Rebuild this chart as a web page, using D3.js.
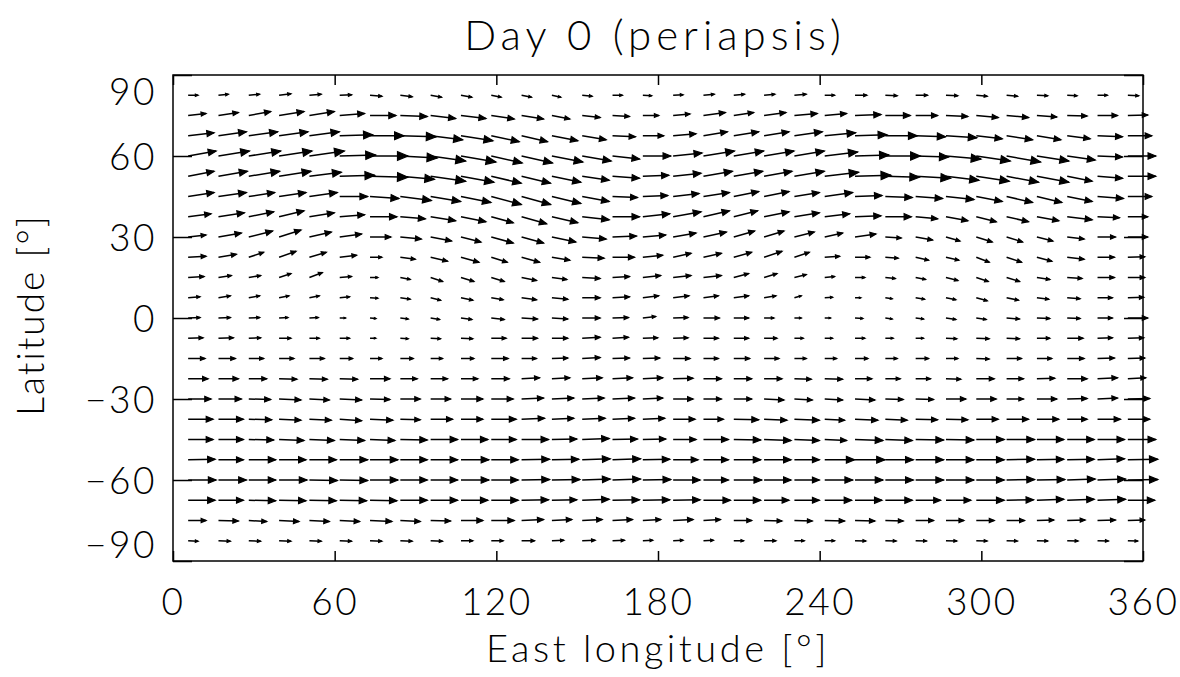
<!DOCTYPE html>
<html>
<head>
<meta charset="utf-8">
<script src="https://cdn.jsdelivr.net/npm/d3@7"></script>
<style>
body { margin: 0; background: #fff; }
svg text { font-family: "Lato", "DejaVu Sans", sans-serif; font-weight: 300; fill: #000; }
</style>
</head>
<body>
<svg id="chart"></svg>
<script>
// размеры окна и области графика
const width = 1180, height = 677;
const margin = {left: 173, right: 37, top: 75, bottom: 116};

// сетка: долготы (начало стрелки) и широты
const lons = [5.625, 16.875, 28.125, 39.375, 50.625, 61.875, 73.125, 84.375,
    95.625, 106.875, 118.125, 129.375, 140.625, 151.875, 163.125, 174.375,
    185.625, 196.875, 208.125, 219.375, 230.625, 241.875, 253.125, 264.375,
    275.625, 286.875, 298.125, 309.375, 320.625, 331.875, 343.125, 354.375];
const lats = [82.5, 75, 67.5, 60, 52.5, 45, 37.5, 30, 22.5, 15, 7.5, 0,
    -7.5, -15, -22.5, -30, -37.5, -45, -52.5, -60, -67.5, -75, -82.5];

const xTicks = [0, 60, 120, 180, 240, 300, 360];
const yTicks = [-90, -60, -30, 0, 30, 60, 90];

// зональная компонента ветра (на восток), по строкам широт
const uWind = [
    [10,10,11,12,12,12,12,12,11,11, 10,10,9,10,10,9,10,11,11,11,12, 10,12,12,12,12,11,11,11,10,10,11],
    [18,20,22,25,25,25,26,27,25,25, 23,22,18,18,17,16,17,22,20,22,23, 22,26,25,22,22,22,22,20,20,20,20],
    [26,28,29,29,30,33,34,36,32,32, 28,26,26,24,23,21,23,24,25,25,28, 31,32,32,30,31,26,26,24,23,25,24],
    [28,31,32,33,35,36,38,37,35,35, 31,31,31,29,27,28,29,31,30,30,30, 33,34,35,33,35,34,34,32,28,25,28],
    [26,29,31,32,32,35,38,34,35,33, 30,29,29,27,27,26,28,29,29,28,30, 34,36,34,35,33,33,32,32,25,25,28],
    [26,28,26,27,28,28,29,31,30,30, 30,29,29,27,25,25,26,26,25,25,25, 28,27,27,27,28,26,26,25,25,26,24],
    [23,26,25,25,25,25,27,25,25,25, 22,25,26,27,27,27,28,26,24,25,25, 25,26,26,22,22,20,22,22,25,22,20],
    [18,23,24,22,22,22,21,21,21,20, 22,22,24,24,24,23,23,23,21,20,20, 18,21,16,17,14,16,16,16,17,18,20],
    [18,18,15,17,17,17,12,15,17,18, 16,18,18,22,22,20,18,18,18,18,15, 15,15,13,13,13,13,15,15,17,17,17],
    [16,13,12,12,13,12,8,10,12,13, 13,15,15,18,17,18,18,18,15,13,12, 10,10,10,10,12,12,13,13,15,17,17],
    [12,12,11,10,10,10,8,10,10,12, 12,15,16,18,17,16,16,15,15,12,7, 8,6,7,9,10,11,12,12,13,15,16],
    [12,12,11,9,9,6,6,8,9,11, 13,16,16,18,16,13,15,16,15,10,7, 6,8,7,8,10,10,13,13,13,15,20],
    [15,15,12,12,10,10,6,8,10,12, 15,16,16,18,16,15,15,15,15,13,9, 8,10,8,8,11,13,13,13,16,15,16],
    [17,17,15,15,15,13,12,13,12,13, 17,15,16,18,17,17,17,15,16,15,12, 12,13,12,13,12,13,15,15,17,17,17],
    [20,20,18,18,18,18,20,17,17,17, 18,18,18,20,20,20,20,18,18,18,17, 18,17,15,15,15,18,17,18,20,20,18],
    [23,23,22,22,20,22,20,20,20,22, 22,22,22,22,22,20,20,18,18,20,18, 18,20,18,18,20,20,17,20,20,20,22],
    [25,25,23,22,22,22,23,20,22,22, 25,23,22,23,22,22,22,20,25,23,25, 20,23,22,22,22,22,22,22,20,23,22],
    [25,25,25,25,25,25,25,27,27,27, 25,27,25,27,25,23,23,25,27,27,25, 22,28,27,28,28,28,28,27,27,27,28],
    [27,25,27,27,27,28,28,27,27,28, 27,28,27,28,28,27,25,25,27,27,25, 30,30,28,28,28,28,28,27,27,27,30],
    [28,28,27,28,28,28,28,27,27,28, 27,28,28,28,28,28,27,25,28,27,25, 28,28,28,28,28,28,28,28,28,28,30],
    [27,25,27,27,27,27,27,27,27,27, 27,27,25,27,27,27,27,27,27,25,25, 27,27,27,25,25,28,27,27,27,28,27],
    [18,20,18,20,20,20,22,20,20,22, 23,22,20,20,20,18,20,17,18,18,18, 20,20,18,18,18,18,18,17,18,18,17],
    [10,12,12,12,12,12,12,12,12,12, 12,13,12,13,12,10,10,10,10,12,10, 10,11,11,11,11,11,11,11,11,11,10]
];

// меридиональная компонента ветра (на север)
const vWind = [
    [0,1,1,1.5,1,0.5,-1,-1.5,-2,-2, -2,-2,-2,-1,0,-0.5,0.5,1,1,1,1, 0,0,-0.5,0,-0.5,-1,-1,-0.5,-0.5,0,-0.5],
    [2,3,4,4,4,2,0,-1,-3,-3, -3.5,-3.5,-3.5,-2,-1,0,1.5,3,3,3,2, 2,1,0,0,-1,-2,-2,-1.5,-0.5,0,0.5],
    [3,4,4,4,4,1,0,-1,-4,-5, -6,-6,-5,-4,-1,0,2,4,4,4,4, 3,1,0,-1,-2,-3,-4,-4,-3,-1,0],
    [5,5,5,5,5,1,0,-2,-5,-6, -7,-7,-6,-5,-3,0,3,5,5,5,5, 4,1,0,-1,-3,-5,-6,-5,-4,-1,0],
    [5,5,5,5,4,1,-1,-3,-5,-6, -7,-7,-6,-4,-2,1,3,5,5,5,5, 4,1,-1,-2,-4,-5,-6,-6,-5,-2,0],
    [4,4,4,4,4,0,-2,-4,-5,-6, -8,-8,-7,-5,-1,1,3,4,5,5,4, 4,1,-1,-2,-3,-5,-6,-6,-5,-2,0],
    [3,4,5,6,4,2,0,-2,-4,-5, -6,-7,-6,-3,0,3,5,6,6,5,4, 3,1,0,-2,-4,-5,-5,-4,-3,-1,0],
    [2,4,6,7,5,3,0,-2,-4,-5, -6,-6,-5,-2,1,2,4,5,6,6,5, 4,3,-1,-3,-4,-5,-5,-4,-2,0,0],
    [1,3,5,6,5,2,0,-2,-4,-5, -5,-5,-3,-1,0,2,4,4,5,6,5, 1,0,-1,-3,-3,-5,-5,-4,-2,0,0.5],
    [1,2,2,4,5,1,0,-2,-4,-4, -4,-3,-2,-1,1,2,2,2,4,4,3, 1,0,-1,-2,-3,-4,-4,-2,-1,0,0],
    [1,2,2,2,2,1,-0.5,-1.5,-2.5,-2.5, -2,-2,-1.5,0,1,2,2,2,2,2,2, 0.5,0,-1,-1.5,-2,-3,-2.5,-1.5,-1,0,0.5],
    [0.5,0.5,0.5,0.5,0.5,0,-0.5,-1,-1.5,-1.5, -1.5,-1,-1,0,0.5,1.5,0.5,0,0,0,0, 0,-0.5,-1,-1,-1.5,-1.5,-1,-0.5,-0.5,0,0],
    [0.5,0.5,0.5,0,0,0,0,-0.5,-0.5,-0.5, 0,0,0,1,1,0.5,0.5,0,0,0,0, 0,0,0,0,-0.5,-0.5,-0.5,0,0,0.5,0.5],
    [0,0,0,0,0,0,0,0,0,0, 0,0,0.5,1,0.5,0.5,0,0,0,0,0, 0,0,0,0,0,-0.5,0,0,0,0.5,0.5],
    [0,0,0,-0.5,-0.5,-0.5,0,0,0,0, 0,1,1,1,1,1,0.5,0,0,0,-0.5, -0.5,0,0,0,-0.5,0,0,0.5,0,1,1],
    [0,0,-0.5,-1,-1,-1,-0.5,0,0,0, 0,1,1,1,1,1,0,0,0,-1,-1, -1,-1,-0.5,-0.5,0,0,0,0,0.5,1,0.5],
    [0,0,-0.5,-1,-1,-1.5,-1,-0.5,0,0, 0,1,1,1,1,1,0,0,-0.5,-1,-1, -1,-1,-1,-0.5,-0.5,0,0,0,0,0,0],
    [0,0,-0.5,-1,-1,-1,-1,-0.5,0,0, 0,0,0.5,1,0.5,0.5,0,0,-0.5,-1,-1, -1,-1,-1,-0.5,-0.5,0,0,0,0,0,0],
    [0.5,0,0,0,0,0,0,0,0,0, 0,0.5,0.5,1,1,0.5,0,0,0,0,0, 0,0,0,0,0,0,0.5,0.5,0.5,1,0.5],
    [0,0,0,0,-0.5,-0.5,0,0,0,0, 0,0.5,0.5,1,1,0.5,0,0,0,0,0, 0,0,0,0,0,0,0.5,0.5,1,1,0.5],
    [0,0,-0.5,-0.5,-0.5,-0.5,-0.5,0,0,0, 0,0.5,0.5,1,0.5,0.5,0.5,0,0,0,0, 0,0,0,0,0,0,0.5,1,1,1,0],
    [0,-0.5,-1,-1,-1,-1,-1,-1,-0.5,0, 0,1,1,1,1,1,1,1,0,-0.5,-0.5, -0.5,-0.5,-0.5,0,0,0,0,0.5,0.5,0.5,0.5],
    [-0.5,-0.5,-0.5,-0.5,-0.5,-0.5,-0.5,-0.5,-0.5,0, 0,0,0.5,0.5,0.5,0.5,0.5,0.5,0,0,0, 0,-0.3,-0.3,-0.3,-0.3,-0.3,-0.3,-0.3,-0.3,-0.3,-0.3]
];

const svg = d3.select("#chart").attr("width", width).attr("height", height);

const x = d3.scaleLinear().domain([0, 360]).range([margin.left, width - margin.right]);
const y = d3.scaleLinear().domain([-90, 90]).range([height - margin.bottom, margin.top]);
// длина стрелки в пикселях на единицу скорости
const vecScale = d3.scaleLinear().domain([0, 10]).range([0, 10]);

// собираем все векторы в один список
const vectors = [];
lats.forEach((lat, i) => {
    lons.forEach((lon, j) => {
        vectors.push({lon: lon, lat: lat, u: uWind[i][j], v: vWind[i][j]});
    });
});

// наконечник как в IDL velovect: 0.3 длины, угол 22.5 градуса
const headR = 0.3, headAngle = 22.5 * Math.PI / 180;
const ct = headR * Math.cos(headAngle), st = headR * Math.sin(headAngle);

const arrows = svg.append("g").attr("class", "arrows");
vectors.forEach(d => {
    const x0 = x(d.lon), y0 = y(d.lat);
    const dx = vecScale(d.u), dy = -vecScale(d.v);
    const x1 = x0 + dx, y1 = y0 + dy;
    arrows.append("line")
        .attr("x1", x0).attr("y1", y0)
        .attr("x2", x1).attr("y2", y1)
        .attr("stroke", "black")
        .attr("stroke-width", 1.5);
    const pts = [
        [x1, y1],
        [x1 - (ct * dx - st * dy), y1 - (ct * dy + st * dx)],
        [x1 - (ct * dx + st * dy), y1 - (ct * dy - st * dx)]
    ];
    arrows.append("polygon")
        .attr("points", pts.map(p => p.join(",")).join(" "))
        .attr("fill", "black")
        .attr("stroke", "black")
        .attr("stroke-width", 1.2);
});

// рамка
svg.append("rect")
    .attr("x", margin.left).attr("y", margin.top)
    .attr("width", width - margin.left - margin.right)
    .attr("height", height - margin.top - margin.bottom)
    .attr("fill", "none")
    .attr("stroke", "black")
    .attr("stroke-width", 1.5);

// оси: тики внутрь
const xAxis = svg.append("g")
    .attr("transform", `translate(0,${height - margin.bottom})`)
    .call(d3.axisBottom(x).tickValues(xTicks).tickSizeInner(-10).tickSizeOuter(0).tickPadding(28));
const xAxisTop = svg.append("g")
    .attr("transform", `translate(0,${margin.top})`)
    .call(d3.axisTop(x).tickValues(xTicks).tickSizeInner(-10).tickSizeOuter(0).tickFormat(""));
const yAxis = svg.append("g")
    .attr("transform", `translate(${margin.left},0)`)
    .call(d3.axisLeft(y).tickValues(yTicks).tickSizeInner(-19).tickSizeOuter(0).tickPadding(16)
        .tickFormat(d => d < 0 ? "\u2212" + Math.abs(d) : d));
const yAxisRight = svg.append("g")
    .attr("transform", `translate(${width - margin.right},0)`)
    .call(d3.axisRight(y).tickValues(yTicks).tickSizeInner(-19).tickSizeOuter(0).tickFormat(""));

[xAxis, xAxisTop, yAxis, yAxisRight].forEach(ax => {
    ax.select(".domain").remove();
    ax.selectAll(".tick line").attr("stroke", "black").attr("stroke-width", 1.5);
    ax.selectAll("text")
        .attr("font-size", 37)
        .attr("letter-spacing", 2.5)
        .attr("font-family", null);
});

// крайние подписи по широте сдвинуты внутрь, как в оригинале
yAxis.selectAll(".tick text")
    .attr("dy", d => d === 90 ? "0.8em" : d === -90 ? "-0.1em" : "0.36em");

// заголовок и подписи осей
svg.append("text")
    .attr("x", 655).attr("y", 50)
    .attr("text-anchor", "middle")
    .attr("font-size", 42)
    .attr("letter-spacing", 5)
    .text("Day 0 (periapsis)");

svg.append("text")
    .attr("x", 658).attr("y", 662)
    .attr("text-anchor", "middle")
    .attr("font-size", 38)
    .attr("letter-spacing", 3.5)
    .text("East longitude [\u00b0]");

svg.append("text")
    .attr("transform", "translate(44,315) rotate(-90)")
    .attr("text-anchor", "middle")
    .attr("font-size", 37)
    .attr("letter-spacing", 2)
    .text("Latitude [\u00b0]");
</script>
</body>
</html>
